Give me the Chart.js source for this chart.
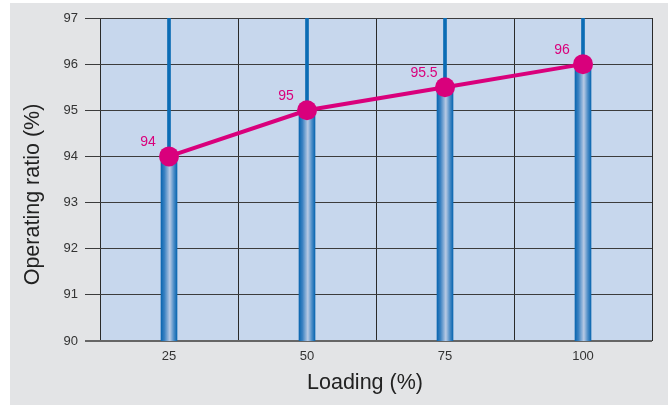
<!DOCTYPE html>
<html>
<head>
<meta charset="utf-8">
<script src="https://cdn.jsdelivr.net/npm/chart.js@4.4.0/dist/chart.umd.min.js"></script>
<style>
    html, body { margin: 0; padding: 0; background: #ffffff; }
    #wrap {
        position: absolute;
        left: 10px; top: 3px;
        width: 658px; height: 402px;
        background: #e3e4e6;
    }
</style>
</head>
<body>
<div id="wrap"><canvas id="ratioChart"></canvas></div>
<script>
// -------------------------
// Data
// -------------------------
const categories = ['25', '50', '75', '100'];
const ratioValues = [94, 95, 95.5, 96];
const ratioLabels = ['94', '95', '95.5', '96'];
const yMin = 90;
const yMax = 97;
const yStep = 1;
const xTitle = 'Loading (%)';
const yTitle = 'Operating ratio (%)';

const BLUE = '#0b6cb5';
const MAGENTA = '#d9007c';
const FONT = '"Liberation Sans", Arial, sans-serif';

// Bars get a horizontal cylinder gradient, built around each bar's x pixel
function barGradient(context) {
    const chart = context.chart;
    if (!chart.chartArea) return BLUE;
    const x = chart.scales.x.getPixelForValue(context.dataIndex);
    const g = chart.ctx.createLinearGradient(x - 8, 0, x + 8, 0);
    g.addColorStop(0, '#0a66b0');
    g.addColorStop(0.22, '#3b82c2');
    g.addColorStop(0.55, '#b8cae4');
    g.addColorStop(0.8, '#4c8dc7');
    g.addColorStop(1, '#0a66b0');
    return g;
}

// Light blue plot area
const plotBackground = {
    id: 'plotBackground',
    beforeDraw(chart) {
        const { ctx, chartArea: a } = chart;
        ctx.save();
        ctx.fillStyle = '#c7d7ed';
        ctx.fillRect(a.left, a.top, a.right - a.left, a.bottom - a.top);
        ctx.restore();
    }
};

// Value labels above-left of the line points
const pointLabels = {
    id: 'pointLabels',
    afterDatasetsDraw(chart) {
        const meta = chart.getDatasetMeta(0);
        const ctx = chart.ctx;
        ctx.save();
        ctx.fillStyle = MAGENTA;
        ctx.font = '14px ' + FONT;
        ctx.textAlign = 'center';
        ctx.textBaseline = 'middle';
        meta.data.forEach((pt, i) => {
            ctx.fillText(ratioLabels[i], pt.x - 21, pt.y - 14);
        });
        ctx.restore();
    }
};

// Axis titles (sit a bit off-centre in the original)
const axisTitles = {
    id: 'axisTitles',
    afterDraw(chart) {
        const { ctx, chartArea: a } = chart;
        ctx.save();
        ctx.fillStyle = '#222';
        ctx.font = '21.5px ' + FONT;
        ctx.textAlign = 'center';
        ctx.textBaseline = 'middle';
        ctx.fillText(xTitle, (a.left + a.right) / 2 - 11, a.bottom + 42);
        ctx.translate(23, (a.top + a.bottom) / 2 + 15);
        ctx.rotate(-Math.PI / 2);
        ctx.fillText(yTitle, 0, 0);
        ctx.restore();
    }
};

new Chart(document.getElementById('ratioChart'), {
    data: {
        labels: categories,
        datasets: [
            {
                type: 'line',
                data: ratioValues,
                borderColor: MAGENTA,
                borderWidth: 4,
                pointRadius: 10,
                pointBackgroundColor: MAGENTA,
                pointBorderWidth: 0,
                order: 0
            },
            {
                type: 'bar',
                data: ratioValues,
                backgroundColor: barGradient,
                barThickness: 16,
                grouped: false,
                order: 1
            },
            {
                type: 'bar',
                data: ratioValues.map(v => [v, yMax]),
                backgroundColor: BLUE,
                barThickness: 3,
                grouped: false,
                order: 2
            }
        ]
    },
    options: {
        responsive: true,
        maintainAspectRatio: false,
        animation: false,
        layout: { padding: { top: 15, right: 16, left: 0, bottom: 0 } },
        plugins: {
            legend: { display: false },
            tooltip: { enabled: false }
        },
        scales: {
            x: {
                offset: true,
                grid: {
                    offset: true,
                    color: '#2a2a2a',
                    lineWidth: 1,
                    drawTicks: false
                },
                border: { display: false },
                ticks: {
                    padding: 8,
                    color: '#333',
                    font: { family: FONT, size: 13 }
                },
                afterFit(scale) { scale.height = 64; }
            },
            y: {
                min: yMin,
                max: yMax,
                grid: {
                    color: ctx => ctx.tick && ctx.tick.value === yMin ? '#666' : '#3c3c3c',
                    lineWidth: ctx => ctx.tick && ctx.tick.value === yMin ? 2 : 1,
                    tickLength: 15
                },
                border: { display: false },
                ticks: {
                    stepSize: yStep,
                    padding: 7,
                    color: '#333',
                    font: { family: FONT, size: 13 }
                },
                afterFit(scale) { scale.width = 90; }
            }
        }
    },
    plugins: [plotBackground, pointLabels, axisTitles]
});
</script>
</body>
</html>
